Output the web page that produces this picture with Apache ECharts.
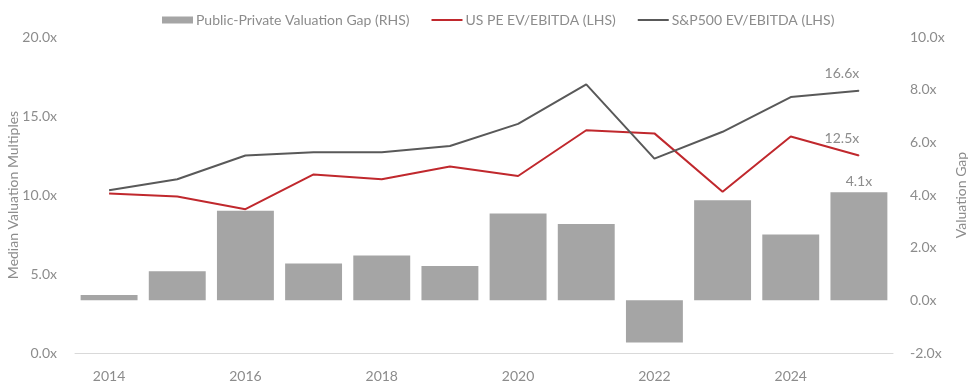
<!DOCTYPE html>
<html>
<head>
<meta charset="utf-8">
<script src="https://cdn.jsdelivr.net/npm/echarts@6/dist/echarts.min.js"></script>
<style>html,body{margin:0;padding:0;background:#fff}#c{width:971px;height:389px}</style>
</head>
<body>
<div id="c"></div>
<script>
const years = ['2014','2015','2016','2017','2018','2019','2020','2021','2022','2023','2024','2025'];
const valuationGap = [0.2, 1.1, 3.4, 1.4, 1.7, 1.3, 3.3, 2.9, -1.6, 3.8, 2.5, 4.1];
const usPE = [10.1, 9.9, 9.1, 11.3, 11.0, 11.8, 11.2, 14.1, 13.9, 10.2, 13.7, 12.5];
const sp500 = [10.3, 11.0, 12.5, 12.7, 12.7, 13.1, 14.5, 17.0, 12.3, 14.0, 16.2, 16.6];
const seriesNames = ['Public-Private Valuation Gap (RHS)', 'US PE EV/EBITDA (LHS)', 'S&P500 EV/EBITDA (LHS)'];

const FONT = 'Lato';
const TXT = '#8c8c8c';
const fmt = v => v.toFixed(1) + 'x';
const lastLabel = (arr) => arr.map((v, i) => i === arr.length - 1 ? {
  value: v, symbol: 'circle', symbolSize: 1,
  label: {show: true, position: 'top', offset: [-17, -5], formatter: p => fmt(p.value), color: TXT, fontFamily: FONT, fontSize: 14}
} : v);
const lineIcon = 'path://M0,0H31V2H0Z';

const chart = echarts.init(document.getElementById('c'), null, {renderer: 'canvas'});
chart.setOption({
  animation: false,
  textStyle: {fontFamily: FONT},
  legend: {
    left: 157, top: 8, itemWidth: 31, itemHeight: 7, itemGap: 22, symbolKeepAspect: true,
    textStyle: {color: TXT, fontSize: 14, fontFamily: FONT, padding: [0, 0, 0, -2]},
    data: [{name: seriesNames[0], icon: 'rect'}, {name: seriesNames[1], icon: lineIcon}, {name: seriesNames[2], icon: lineIcon}]
  },
  grid: {left: 75, right: 78, top: 37, bottom: 36, containLabel: false, outerBoundsMode: 'none'},
  xAxis: {
    type: 'category', data: years,
    axisLine: {lineStyle: {color: '#d9d9d9', width: 1}},
    axisTick: {show: false},
    axisLabel: {interval: 1, color: TXT, fontSize: 14, fontFamily: FONT, margin: 16}
  },
  yAxis: [{
    type: 'value', min: 0, max: 20, interval: 5,
    name: 'Median Valuation Multiples', nameLocation: 'middle', nameGap: 55, nameMoveOverlap: false,
    nameTextStyle: {color: TXT, fontSize: 14, fontFamily: FONT},
    axisLine: {show: false}, axisTick: {show: false}, splitLine: {show: false},
    axisLabel: {formatter: fmt, color: TXT, fontSize: 14, fontFamily: FONT, margin: 18}
  }, {
    type: 'value', min: -2, max: 10, interval: 2, position: 'right',
    name: 'Valuation Gap', nameLocation: 'middle', nameGap: 61, nameRotate: 90, nameMoveOverlap: false,
    nameTextStyle: {color: TXT, fontSize: 14, fontFamily: FONT},
    axisLine: {show: false}, axisTick: {show: false}, splitLine: {show: false},
    axisLabel: {formatter: fmt, color: TXT, fontSize: 14, fontFamily: FONT, margin: 17}
  }],
  series: [{
    name: seriesNames[0], type: 'bar', yAxisIndex: 1, barCategoryGap: '16.5%',
    itemStyle: {color: '#a5a5a5'},
    data: valuationGap.map((v, i) => i === valuationGap.length - 1 ? {
      value: v, label: {show: true, position: 'top', distance: 4, formatter: p => fmt(p.value), color: TXT, fontSize: 14, fontFamily: FONT}
    } : v)
  }, {
    name: seriesNames[1], type: 'line', yAxisIndex: 0, symbol: 'none',
    lineStyle: {color: '#c0282d', width: 2}, itemStyle: {color: '#c0282d'},
    data: lastLabel(usPE)
  }, {
    name: seriesNames[2], type: 'line', yAxisIndex: 0, symbol: 'none',
    lineStyle: {color: '#595959', width: 2}, itemStyle: {color: '#595959'},
    data: lastLabel(sp500)
  }]
});
</script>
</body>
</html>
